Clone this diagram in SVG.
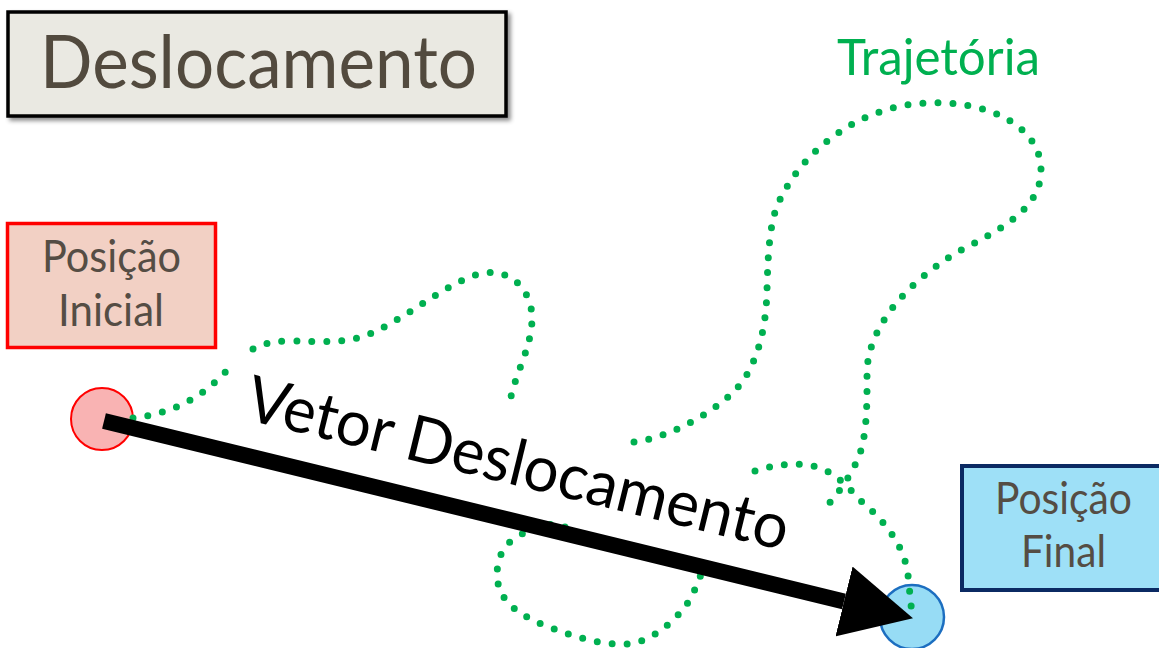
<svg xmlns="http://www.w3.org/2000/svg" width="1159" height="648" viewBox="0 0 1159 648">
<defs>
<style>
.lbl{font-family:Lato,"Open Sans","Liberation Sans",sans-serif;fill:#554d44;font-size:44px}
.traj{fill:none;stroke:#00b050;stroke-width:7;stroke-linecap:round;stroke-dasharray:0 15}
</style>
<filter id="sh" x="-5%" y="-10%" width="115%" height="130%">
<feDropShadow dx="3" dy="3" stdDeviation="2" flood-color="#000" flood-opacity="0.45"/>
</filter>
<marker id="head" viewBox="0 -36 71 72" markerUnits="userSpaceOnUse" markerWidth="71" markerHeight="72" refX="0" refY="0" orient="auto">
<path d="M0,-36 L71,0 L0,36 Z" fill="#000"/>
</marker>
</defs>
<rect width="1159" height="648" fill="#fff"/>

<g id="title">
<rect x="8" y="12" width="498" height="104" fill="#eae9e2" stroke="#000" stroke-width="3.5" filter="url(#sh)"/>
<text x="40" y="88" font-family="Lato,'Open Sans','Liberation Sans',sans-serif" font-size="74" fill="#524a3e" textLength="437" lengthAdjust="spacingAndGlyphs">Deslocamento</text>
</g>

<g id="trajetoria-label">
<text x="837" y="75" font-family="Lato,'Open Sans','Liberation Sans',sans-serif" font-size="51" fill="#00b050" textLength="203" lengthAdjust="spacingAndGlyphs">Trajetória</text>
</g>

<g id="posicao-inicial">
<rect x="7.5" y="223.5" width="208" height="124" fill="#f2d0c4" stroke="#ff0000" stroke-width="3.5"/>
<text class="lbl" x="42" y="272" textLength="139" lengthAdjust="spacingAndGlyphs">Posição</text>
<text class="lbl" x="58" y="326" textLength="106" lengthAdjust="spacingAndGlyphs">Inicial</text>
</g>

<g id="posicao-final">
<rect x="962" y="466" width="210" height="124" fill="#9ee0f7" stroke="#0b2a63" stroke-width="4"/>
<text class="lbl" x="995" y="514" textLength="137" lengthAdjust="spacingAndGlyphs">Posição</text>
<text class="lbl" x="1021" y="567" textLength="85" lengthAdjust="spacingAndGlyphs">Final</text>
</g>

<g id="ponto-inicial">
<circle cx="102" cy="419" r="31" fill="#f9b3b3" stroke="#ff0000" stroke-width="2"/>
</g>

<g id="ponto-final">
<circle cx="912" cy="617" r="32" fill="#97dcf5" stroke="#1c6ec0" stroke-width="2.5"/>
</g>

<g id="connectors">
<path id="trajetoria" class="traj" d="M133,418 C155,416 180,408 200,394 C215,384 225,372 235,362
M253,349 C265,343 275,341 290,341 C320,341 345,345 372,333 C410,316 450,280 483,273 C515,268 533,295 532,320 C531,352 511,380 509,410
M634,442 C670,438 725,408 745,378 C758,356 766,330 767,290 C768,250 770,215 782,196 C805,150 860,105 928,103 C985,100 1041,125 1041,170 C1041,205 1010,225 963,249 C925,270 870,315 867,370 C867,400 868,440 856,463 C848,480 835,498 821,512
M565,527 C552,521 535,526 515,538 C500,548 495,565 498,583 C502,605 525,618 549,627 C575,637 600,645 627,644 C650,642 670,625 684,608 C692,598 697,585 705,564
M755,471 C780,463 805,461 825,470 C845,480 855,497 871,510 C890,528 905,550 908,575 C910,595 911,605 912,614"/>
<path id="vetor" d="M104,421 L844,601.5" stroke="#000" stroke-width="16" fill="none" marker-end="url(#head)"/>
</g>

<g id="vetor-label">
<text transform="translate(243,419) rotate(13.7)" x="0" y="0" font-family="Lato,'Open Sans','Liberation Sans',sans-serif" font-size="64" fill="#000" textLength="556" lengthAdjust="spacingAndGlyphs">Vetor Deslocamento</text>
</g>
</svg>
